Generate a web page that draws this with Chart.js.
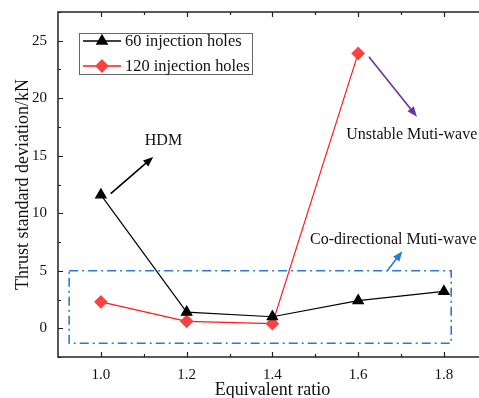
<!DOCTYPE html>
<html>
<head>
<meta charset="utf-8">
<script src="https://cdn.jsdelivr.net/npm/chart.js@4"></script>
<style>
  html, body { margin: 0; padding: 0; background: #fff; overflow: hidden; }
  #wrap { width: 479px; height: 398px; overflow: hidden; }
  #wrap canvas { display: block; }
</style>
</head>
<body>
<div id="wrap"><canvas id="grafico" width="494" height="398" style="width:494px;height:398px"></canvas></div>
<script>
const ratios = [1.0, 1.2, 1.4, 1.6, 1.8];
const holes60 = [11.6, 1.4, 1.0, 2.4, 3.2];
const holes120 = [2.3, 0.6, 0.4, 23.9, null];
const xTicks = [1.0, 1.2, 1.4, 1.6, 1.8];
const yTicks = [0, 5, 10, 15, 20, 25];
const seriesNames = ['60 injection holes', '120 injection holes'];

// annotations in data units
const boxRegion = { x0: 0.926, x1: 1.817, y0: -1.3, y1: 5 };
const arrows = [
  { from: [1.023, 11.7], to: [1.122, 14.9], color: '#000000' },
  { from: [1.625, 23.6], to: [1.737, 18.4], color: '#7030a0' },
  { from: [1.668, 5.0], to: [1.703, 6.7], color: '#2a7ad2' }
];
const labels = [
  { text: 'HDM', x: 1.146, y: 16.3 },
  { text: 'Unstable Muti-wave', x: 1.725, y: 16.8 },
  { text: 'Co-directional Muti-wave', x: 1.682, y: 7.7 }
];

const FONT = '"Liberation Serif", "Times New Roman", serif';

const decor = {
  id: 'decor',
  beforeDatasetsDraw(chart) {
    const ctx = chart.ctx, xs = chart.scales.x, ys = chart.scales.y;
    ctx.save();
    // dash-dot region
    ctx.strokeStyle = '#2a7ad2';
    ctx.lineWidth = 1.6;
    ctx.setLineDash([9, 4, 2, 4]);
    const rx0 = xs.getPixelForValue(boxRegion.x0), rx1 = xs.getPixelForValue(boxRegion.x1);
    const ry0 = ys.getPixelForValue(boxRegion.y0), ry1 = ys.getPixelForValue(boxRegion.y1);
    ctx.strokeRect(rx0, ry1, rx1 - rx0, ry0 - ry1);
    ctx.setLineDash([]);
    ctx.restore();
  },
  afterDraw(chart) {
    const ctx = chart.ctx, xs = chart.scales.x, ys = chart.scales.y, a = chart.chartArea;
    ctx.save();
    // frame
    ctx.strokeStyle = '#222';
    ctx.lineWidth = 1.5;
    ctx.strokeRect(a.left, a.top, a.right - a.left, a.bottom - a.top);
    // inward ticks
    ctx.lineWidth = 1.2;
    ctx.beginPath();
    for (let k = 10; k <= 19; k++) {
      const px = Math.round(xs.getPixelForValue(k / 10)) + 0.5;
      const len = (k % 2 === 0) ? 5 : 3;
      ctx.moveTo(px, a.bottom); ctx.lineTo(px, a.bottom - len);
      ctx.moveTo(px, a.top); ctx.lineTo(px, a.top + len);
    }
    for (let k = -1; k <= 11; k++) {
      const py = Math.round(ys.getPixelForValue(k * 2.5)) + 0.5;
      const len = (k % 2 === 0) ? 5 : 3;
      ctx.moveTo(a.left, py); ctx.lineTo(a.left + len, py);
      ctx.moveTo(a.right, py); ctx.lineTo(a.right - len, py);
    }
    ctx.stroke();

    // arrows
    arrows.forEach(ar => {
      const x0 = xs.getPixelForValue(ar.from[0]), y0 = ys.getPixelForValue(ar.from[1]);
      const x1 = xs.getPixelForValue(ar.to[0]), y1 = ys.getPixelForValue(ar.to[1]);
      const ang = Math.atan2(y1 - y0, x1 - x0);
      const hl = 10, hw = 4;
      ctx.strokeStyle = ar.color; ctx.fillStyle = ar.color; ctx.lineWidth = 1.6;
      ctx.beginPath();
      ctx.moveTo(x0, y0);
      ctx.lineTo(x1 - Math.cos(ang) * hl * 0.8, y1 - Math.sin(ang) * hl * 0.8);
      ctx.stroke();
      ctx.beginPath();
      ctx.moveTo(x1, y1);
      ctx.lineTo(x1 - Math.cos(ang) * hl - Math.sin(ang) * hw, y1 - Math.sin(ang) * hl + Math.cos(ang) * hw);
      ctx.lineTo(x1 - Math.cos(ang) * hl + Math.sin(ang) * hw, y1 - Math.sin(ang) * hl - Math.cos(ang) * hw);
      ctx.closePath();
      ctx.fill();
    });

    // text labels
    ctx.fillStyle = '#111';
    ctx.font = '16px ' + FONT;
    ctx.textAlign = 'center';
    ctx.textBaseline = 'middle';
    labels.forEach(l => ctx.fillText(l.text, xs.getPixelForValue(l.x), ys.getPixelForValue(l.y)));

    // legend
    const lx = 79, ly = 33, lw = 173, lh = 41;
    ctx.fillStyle = '#fff';
    ctx.fillRect(lx, ly, lw, lh);
    ctx.strokeStyle = '#666'; ctx.lineWidth = 1;
    ctx.strokeRect(lx + 0.5, ly + 0.5, lw, lh);
    chart.data.datasets.forEach((ds, i) => {
      const cy = ly + 8 + i * 25;
      ctx.strokeStyle = ds.borderColor; ctx.lineWidth = 1.3;
      ctx.beginPath(); ctx.moveTo(lx + 4, cy); ctx.lineTo(lx + 42, cy); ctx.stroke();
      ctx.fillStyle = ds.pointBackgroundColor;
      ctx.strokeStyle = ds.pointBorderColor;
      Chart.helpers.drawPoint(ctx, { pointStyle: ds.pointStyle, radius: ds.pointRadius, borderWidth: 1 }, lx + 23, cy);
      ctx.fillStyle = '#111';
      ctx.font = '16.4px ' + FONT;
      ctx.textAlign = 'left';
      ctx.fillText(ds.label, lx + 46, cy + 1);
    });
    ctx.restore();
  }
};

new Chart(document.getElementById('grafico').getContext('2d'), {
  type: 'line',
  data: {
    labels: ratios,
    datasets: [{
      label: seriesNames[0],
      data: ratios.map((r, i) => ({ x: r, y: holes60[i] })),
      borderColor: '#000000',
      backgroundColor: '#000000',
      pointBackgroundColor: '#000000',
      pointBorderColor: '#000000',
      pointStyle: 'triangle',
      pointRadius: 6,
      borderWidth: 1.2,
      tension: 0
    }, {
      label: seriesNames[1],
      data: ratios.map((r, i) => ({ x: r, y: holes120[i] })),
      borderColor: '#ff1a1a',
      backgroundColor: '#ff4040',
      pointBackgroundColor: '#ff4040',
      pointBorderColor: '#ff4040',
      pointStyle: 'rectRot',
      pointRadius: 6,
      borderWidth: 1.2,
      tension: 0
    }]
  },
  options: {
    responsive: false,
    animation: false,
    layout: { padding: { top: 8, right: 3, left: 0, bottom: 0 } },
    plugins: { legend: { display: false }, tooltip: { enabled: false } },
    scales: {
      x: {
        type: 'linear',
        min: 0.9,
        max: 1.9,
        afterBuildTicks: s => { s.ticks = xTicks.map(v => ({ value: v })); },
        afterFit: s => { s.height = 41; },
        grid: { display: false },
        border: { display: false },
        ticks: {
          color: '#111',
          font: { family: FONT, size: 15 },
          padding: 1,
          maxRotation: 0,
          callback: v => v.toFixed(1)
        },
        title: {
          display: true,
          text: 'Equivalent ratio',
          color: '#111',
          font: { family: FONT, size: 18 },
          padding: { top: 0, bottom: -3 }
        }
      },
      y: {
        min: -2.5,
        max: 27.5,
        afterBuildTicks: s => { s.ticks = yTicks.map(v => ({ value: v })); },
        afterFit: s => { s.width = 58; },
        grid: { display: false },
        border: { display: false },
        ticks: {
          color: '#111',
          font: { family: FONT, size: 15 },
          padding: 3
        },
        title: {
          display: true,
          text: 'Thrust standard deviation/kN',
          color: '#111',
          font: { family: FONT, size: 18 },
          padding: { top: 12, bottom: 0 }
        }
      }
    }
  },
  plugins: [decor]
});
</script>
</body>
</html>
